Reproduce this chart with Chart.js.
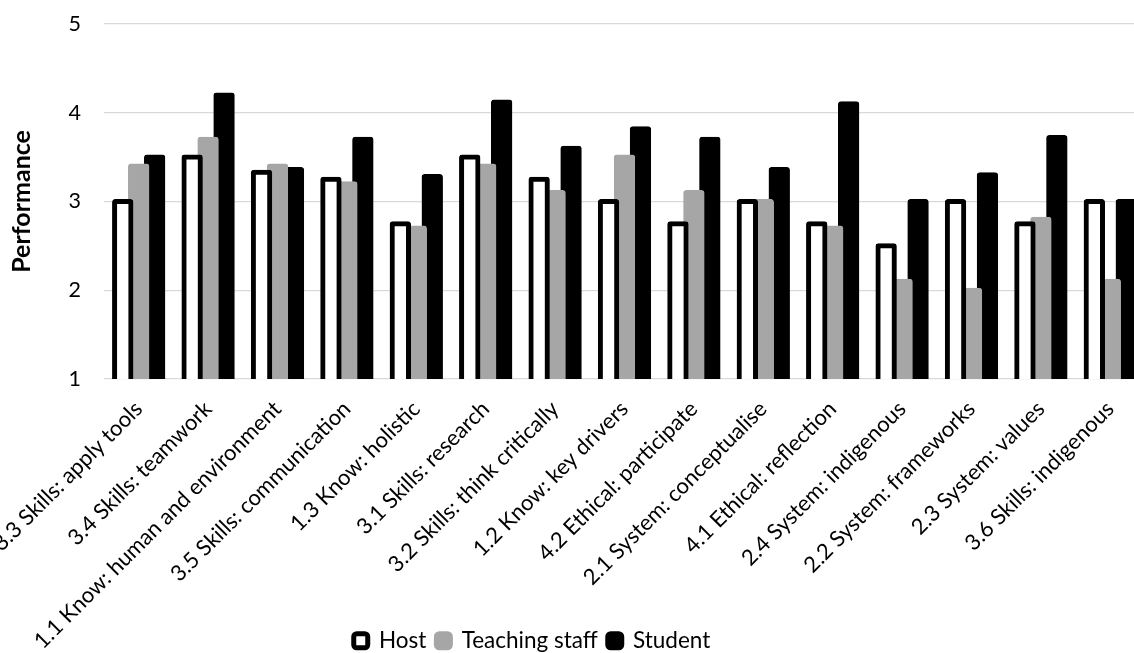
<!DOCTYPE html>
<html>
<head>
<meta charset="utf-8">
<script src="https://cdn.jsdelivr.net/npm/chart.js@4/dist/chart.umd.min.js"></script>
<style>
  html, body { margin: 0; padding: 0; background: #fff; overflow: hidden; }
  #wrap { position: relative; width: 1134px; height: 653px; overflow: hidden; }
  #wrap canvas { position: absolute; left: -40px; top: -12px; }
</style>
</head>
<body>
<div id="wrap"><canvas id="chart" width="1190" height="674"></canvas></div>
<script>
// Learning outcome categories (x axis)
const categories = [
  '3.3 Skills: apply tools',
  '3.4 Skills: teamwork',
  '1.1 Know: human and environment',
  '3.5 Skills: communication',
  '1.3 Know: holistic',
  '3.1 Skills: research',
  '3.2 Skills: think critically',
  '1.2 Know: key drivers',
  '4.2 Ethical: participate',
  '2.1 System: conceptualise',
  '4.1 Ethical: reflection',
  '2.4 System: indigenous',
  '2.2 System: frameworks',
  '2.3 System: values',
  '3.6 Skills: indigenous'
];

// Mean performance ratings per group
const hostScores     = [3.0, 3.5, 3.33, 3.25, 2.75, 3.5, 3.25, 3.0, 2.75, 3.0, 2.75, 2.5, 3.0, 2.75, 3.0];
const teachingScores = [3.4, 3.7, 3.4, 3.2, 2.7, 3.4, 3.1, 3.5, 3.1, 3.0, 2.7, 2.1, 2.0, 2.8, 2.1];
const studentScores  = [3.5, 4.2, 3.36, 3.7, 3.28, 4.12, 3.6, 3.82, 3.7, 3.36, 4.1, 3.0, 3.3, 3.72, 3.0];

// Performance scale
const yMin = 1;
const yMax = 5;
const yStep = 1;

const seriesNames = ['Host', 'Teaching staff', 'Student'];

const FONT = 'Lato, "Open Sans", sans-serif';
const GREY = '#a6a6a6';

// Long category labels run down past the legend row: let them, and
// centre the legend row under the plot the way the report layout does.
const layoutTweaks = {
  id: 'layoutTweaks',
  afterLayout(chart) {
    const x = chart.scales.x;
    if (x) { x.bottom = chart.height; }
    const lg = chart.legend;
    if (lg) { lg.left -= 40.5; lg.right -= 40.5; }
  }
};

function draw() {
  const ctx = document.getElementById('chart').getContext('2d');
  const barCommon = {
    borderWidth: 5,
    borderRadius: 3,
    borderSkipped: false,
    inflateAmount: 2.5,
    barPercentage: 1.025,
    categoryPercentage: 0.69
  };
  new Chart(ctx, {
    type: 'bar',
    data: {
      labels: categories,
      datasets: [
        Object.assign({ label: seriesNames[0], data: hostScores, backgroundColor: '#ffffff', borderColor: '#000000' }, barCommon),
        Object.assign({ label: seriesNames[1], data: teachingScores, backgroundColor: GREY, borderColor: GREY }, barCommon),
        Object.assign({ label: seriesNames[2], data: studentScores, backgroundColor: '#000000', borderColor: '#000000' }, barCommon)
      ]
    },
    options: {
      responsive: false,
      animation: false,
      events: [],
      layout: { padding: { top: 11, left: 40, right: 5, bottom: 0 } },
      scales: {
        x: {
          grid: { display: false, drawTicks: false },
          border: { display: false },
          ticks: {
            autoSkip: false,
            minRotation: 45,
            maxRotation: 45,
            padding: 17,
            color: '#000',
            font: { family: FONT, size: 22 }
          },
          afterFit(scale) { scale.height = 240.5; }
        },
        y: {
          min: yMin,
          max: yMax,
          grid: { color: '#d9d9d9', lineWidth: 1.3, drawTicks: false },
          border: { display: false },
          ticks: {
            stepSize: yStep,
            padding: 23,
            color: '#000',
            font: { family: FONT, size: 21.5 }
          },
          title: {
            display: true,
            text: 'Performance',
            color: '#000',
            padding: { top: 7, bottom: 0 },
            font: { family: FONT, size: 25, weight: 'bold' }
          },
          afterFit(scale) { scale.width = 104; }
        }
      },
      plugins: {
        legend: {
          position: 'bottom',
          labels: {
            boxWidth: 14,
            boxHeight: 14,
            padding: 10,
            useBorderRadius: true,
            borderRadius: 3,
            color: '#000',
            font: { family: FONT, size: 22.5 }
          }
        },
        tooltip: { enabled: false }
      }
    },
    plugins: [layoutTweaks]
  });
}

if (document.fonts && document.fonts.load) {
  Promise.all([
    document.fonts.load('22px Lato'),
    document.fonts.load('bold 25px Lato')
  ]).then(draw, draw);
} else {
  draw();
}
</script>
</body>
</html>
